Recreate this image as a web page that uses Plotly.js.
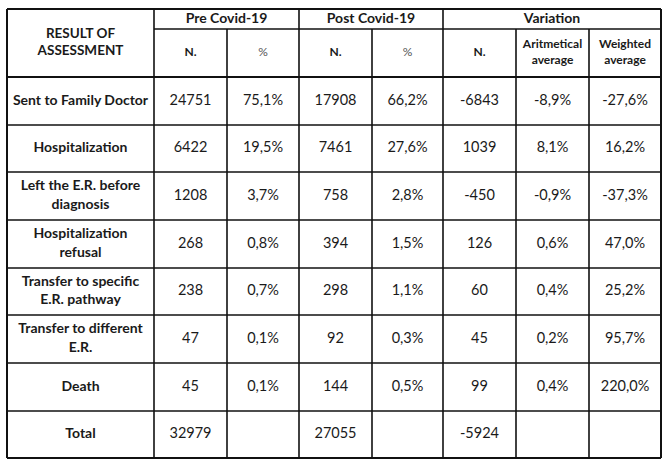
<!DOCTYPE html>
<html>
<head>
<meta charset="utf-8">
<script src="https://cdn.plot.ly/plotly-3.0.1.min.js"></script>
<style>html,body{margin:0;padding:0;background:#fff;}#chart{width:669px;height:469px;}</style>
</head>
<body>
<div id="chart"></div>
<script>
// ---- data ----
const categories = ["Sent to Family Doctor", "Hospitalization", "Left the E.R. before<br>diagnosis", "Hospitalization<br>refusal", "Transfer to specific<br>E.R. pathway", "Transfer to different<br>E.R.", "Death", "Total"];
const preN = [24751, 6422, 1208, 268, 238, 47, 45, 32979];
const prePct = [75.1, 19.5, 3.7, 0.8, 0.7, 0.1, 0.1, null];
const postN = [17908, 7461, 758, 394, 298, 92, 144, 27055];
const postPct = [66.2, 27.6, 2.8, 1.5, 1.1, 0.3, 0.5, null];
const varN = [-6843, 1039, -450, 126, 60, 45, 99, -5924];
const varArit = [-8.9, 8.1, -0.9, 0.6, 0.4, 0.2, 0.4, null];
const varWeighted = [-27.6, 16.2, -37.3, 47.0, 25.2, 95.7, 220.0, null];
const headerTitle = "RESULT OF<br>ASSESSMENT";
const groupHeaders = ["Pre Covid-19", "Post Covid-19", "Variation"];
const subHeaders = ["N.", "%", "N.", "%", "N.", "Aritmetical<br>average", "Weighted<br>average"];

// ---- layout geometry ----
const colX = [7, 154, 227, 299, 372, 443, 516, 589, 661];
const rowY = [9, 29, 77, 125, 172, 220, 268, 315, 363, 411, 458];
const bodyTop = 2;

const pct = v => (v === null ? "" : v.toFixed(1).replace('.', ',') + '%');
const mid = (a, b) => (a + b) / 2;
const txtColor = '#1a1a1a';
const FONT = 'Lato, "Open Sans", sans-serif';

const traces = [];
function addText(xs, ys, texts, size, weight, color) {
  traces.push({
    type: 'scatter', mode: 'text', x: xs, y: ys, text: texts,
    textposition: 'middle center', hoverinfo: 'skip', showlegend: false,
    textfont: {family: FONT, size: size, color: color || txtColor, weight: weight}
  });
}

// body cells
const columns = [
  categories,
  preN.map(String), prePct.map(pct),
  postN.map(String), postPct.map(pct),
  varN.map(String), varArit.map(pct), varWeighted.map(pct)
];
columns.forEach((col, ci) => {
  const xs = [], ys = [];
  col.forEach((t, ri) => {
    xs.push(mid(colX[ci], colX[ci + 1]));
    ys.push(mid(rowY[bodyTop + ri], rowY[bodyTop + ri + 1]));
  });
  addText(xs, ys, col, ci === 0 ? 14 : 14.5, ci === 0 ? 700 : 400);
});

// header texts
addText([mid(colX[0], colX[1])], [mid(rowY[0], rowY[2])], [headerTitle], 13.5, 700);
addText(groupHeaders.map((g, i) => mid(colX[1 + 2 * i], colX[1 + 2 * i + (i === 2 ? 3 : 2)])),
        groupHeaders.map(() => mid(rowY[0], rowY[1])), groupHeaders, 14, 700);
subHeaders.forEach((s, i) => {
  addText([mid(colX[i + 1], colX[i + 2])], [mid(rowY[1], rowY[2])], [s],
          12, s === '%' ? 400 : 700, s === '%' ? '#555' : txtColor);
});

// grid lines
const shapes = [];
const lw = 1.6, lc = '#111';
function hline(y, x0, x1, w) { shapes.push({type: 'line', x0: x0, x1: x1, y0: y, y1: y, line: {color: lc, width: w || lw}}); }
function vline(x, y0, y1, w) { shapes.push({type: 'line', x0: x, x1: x, y0: y0, y1: y1, line: {color: lc, width: w || lw}}); }
rowY.forEach((y, i) => {
  if (i === 1) hline(y, colX[1], colX[8]);
  else hline(y, colX[0], colX[8], (i === 0 || i === rowY.length - 1 || i === 2) ? 2 : lw);
});
colX.forEach((x, i) => {
  if (i === 0 || i === 1 || i === 3 || i === 5 || i === 8) vline(x, rowY[0], rowY[rowY.length - 1], (i === 0 || i === 8) ? 2 : lw);
  else vline(x, rowY[1], rowY[rowY.length - 1]);
});

const layout = {
  width: 669, height: 469,
  margin: {l: 0, r: 0, t: 0, b: 0},
  paper_bgcolor: '#fff', plot_bgcolor: '#fff',
  xaxis: {range: [0, 669], visible: false, fixedrange: true},
  yaxis: {range: [469, 0], visible: false, fixedrange: true},
  shapes: shapes,
  showlegend: false
};
Plotly.newPlot('chart', traces, layout, {staticPlot: true, displayModeBar: false});
</script>
</body>
</html>
